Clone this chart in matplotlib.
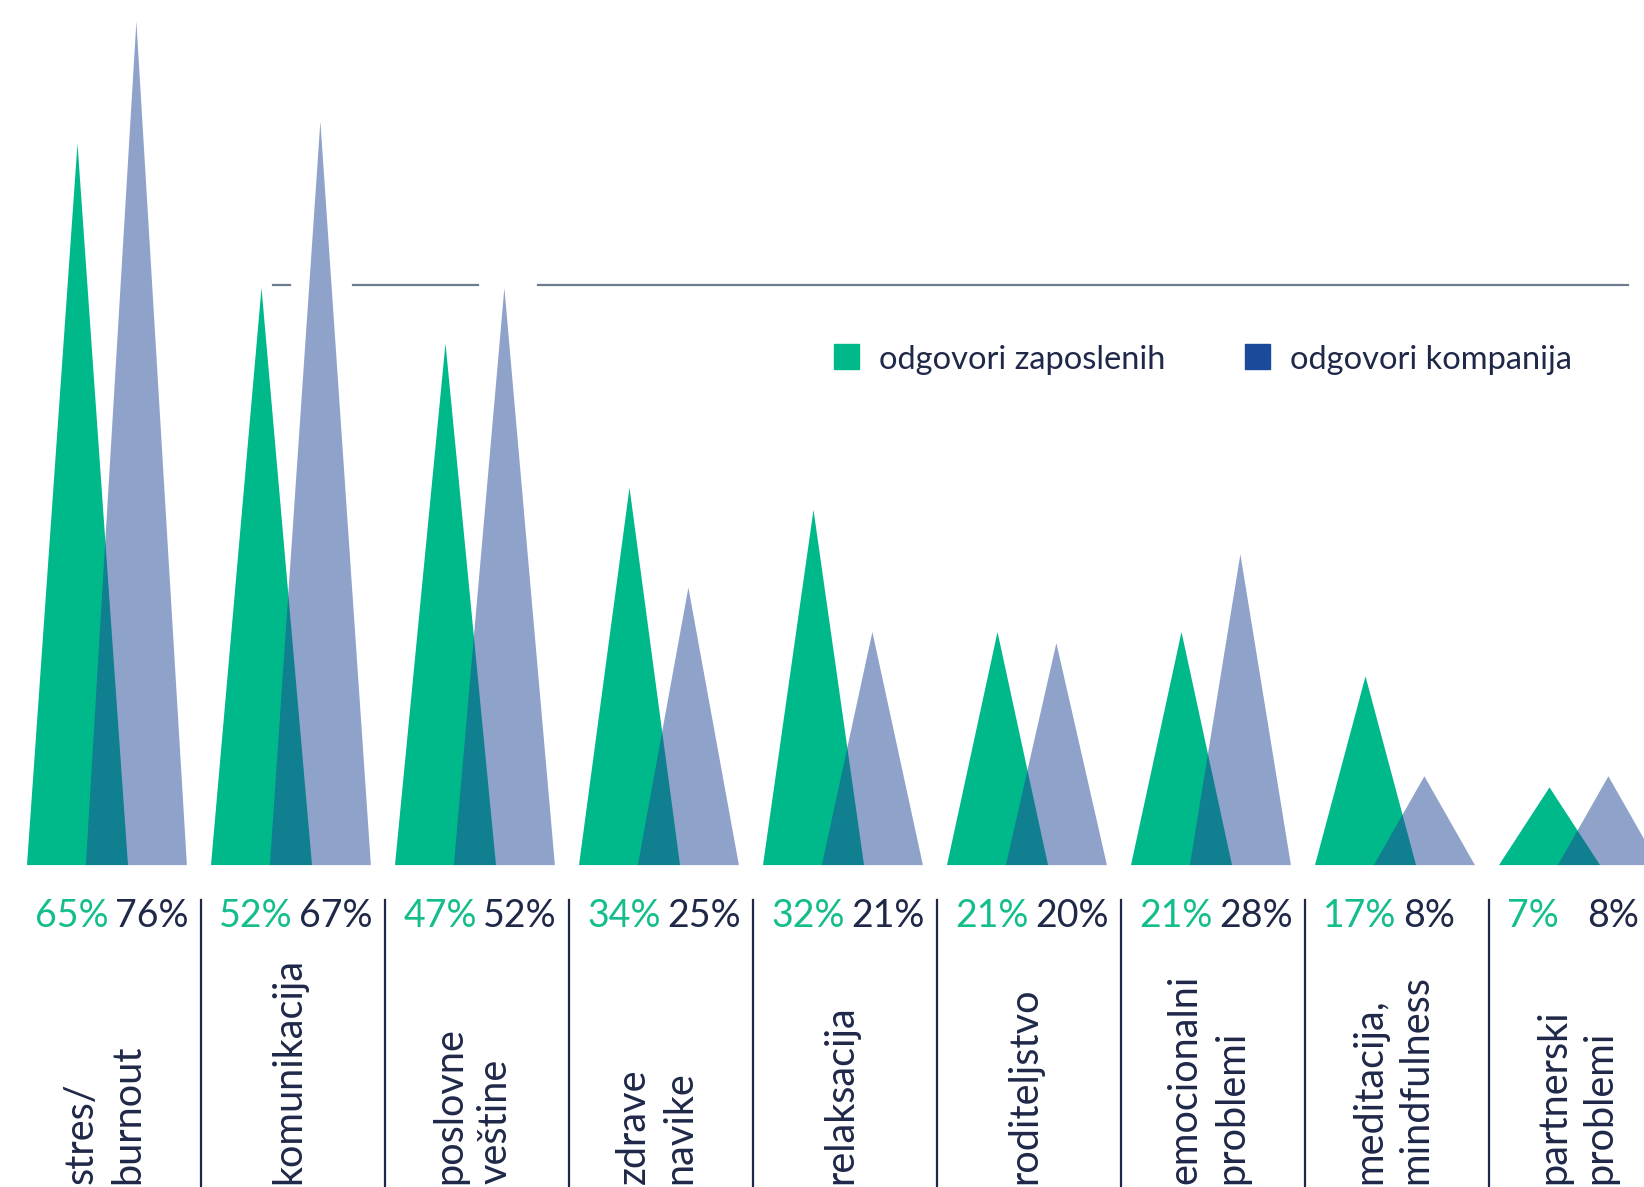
import matplotlib.pyplot as plt
from matplotlib.patches import Rectangle

# Podaci sa grafikona
categories = ["stres/\nburnout", "komunikacija", "poslovne\nveštine", "zdrave\nnavike",
              "relaksacija", "roditeljstvo", "emocionalni\nproblemi",
              "meditacija,\nmindfulness", "partnerski\nproblemi"]
zaposleni = [65, 52, 47, 34, 32, 21, 21, 17, 7]
kompanije = [76, 67, 52, 25, 21, 20, 28, 8, 8]

GREEN = "#00b98a"
GREEN_TXT = "#14bd8c"
BLUE = "#204797"
LEGEND_BLUE = "#1b4a9b"
NAVY = "#1f2848"
GRID = "#6e7a8e"

# geometrija trouglova (u jedinicama jedne grupe)
W = 0.549      # sirina osnove
OFF = 0.32     # pomak plavog trougla

plt.rcParams['font.family'] = ['Lato', 'DejaVu Sans']

fig = plt.figure(figsize=(16.44, 11.87), dpi=100)
ax = fig.add_axes([0, 0, 1, 1])
ax.set_xlim(-0.1467, 8.788)
ax.set_ylim(-29.0, 77.93)
ax.axis("off")

# horizontalna linija (sa prekidima)
for a, b in [(1.337, 1.429), (1.772, 2.451), (2.777, 8.701)]:
    ax.plot([a, b], [52.25, 52.25], color=GRID, lw=1.6, zorder=1)

for i, (g, k) in enumerate(zip(zaposleni, kompanije)):
    ax.fill([i, i + W / 2, i + W], [0, g, 0], color=GREEN, lw=0, zorder=2)
    ax.fill([i + OFF, i + OFF + W / 2, i + OFF + W], [0, k, 0],
            color=BLUE, alpha=0.5, lw=0, zorder=3)
    ax.text(i + 0.045, -4.6, f"{g}%", color=GREEN_TXT, fontsize=27,
            ha="left", va="center")
    ax.text(i + 0.48, -4.6, f"{k}%", color=NAVY, fontsize=27,
            ha="left", va="center")
    ax.text(i + 0.42, -28.7, categories[i], color=NAVY, fontsize=28.5,
            rotation=90, ha="center", va="bottom", multialignment="left",
            linespacing=1.3)
    if i < len(categories) - 1:
        ax.plot([i + 0.946, i + 0.946], [-3.15, -29.0], color=NAVY, lw=1.6)

# legenda
fig.patches.append(Rectangle((0.5073, 0.6891), 0.0152, 0.0211, color=GREEN,
                             transform=fig.transFigure, figure=fig))
fig.patches.append(Rectangle((0.7573, 0.6891), 0.0152, 0.0211, color=LEGEND_BLUE,
                             transform=fig.transFigure, figure=fig))
fig.text(0.5347, 0.6965, "odgovori zaposlenih", color=NAVY, fontsize=23.5,
         ha="left", va="center")
fig.text(0.7847, 0.6965, "odgovori kompanija", color=NAVY, fontsize=23.5,
         ha="left", va="center")

fig.savefig("out.png", dpi=100, facecolor="white")
